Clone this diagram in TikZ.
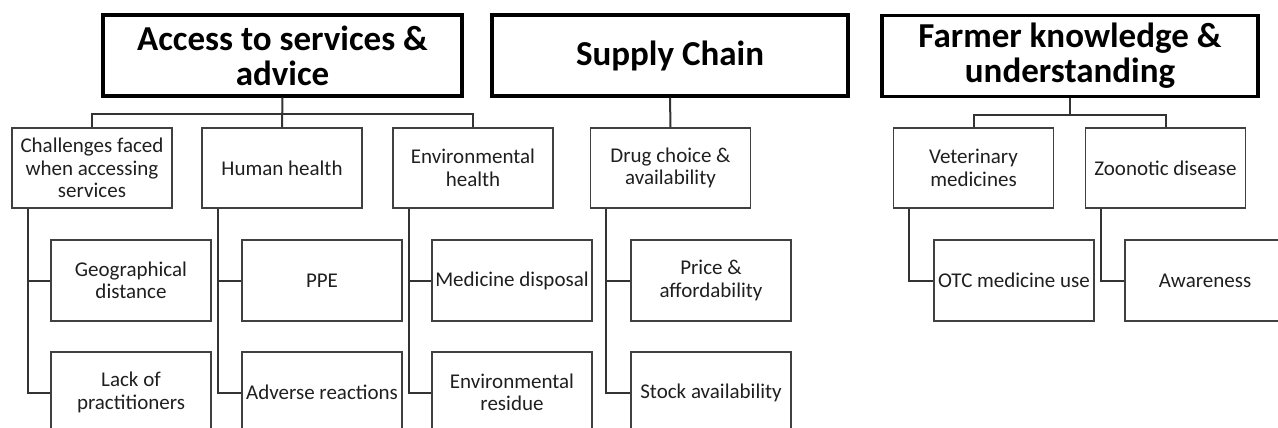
\documentclass[tikz,border=0pt]{standalone}
\usepackage{fontspec}
\setmainfont{Carlito}
\usetikzlibrary{calc}
\begin{document}
\begin{tikzpicture}[x=1pt,y=-1pt,
  headbox/.style={draw=black,line width=3.2pt,minimum width=#1,minimum height=81pt,
    inner sep=0pt,align=center,font=\fontsize{35}{35}\selectfont\bfseries},
  topicbox/.style={draw=black!75,line width=1.7pt,minimum width=160pt,minimum height=80pt,
    inner sep=0pt,align=center,text=black!88,font=\fontsize{21}{22.5}\selectfont},
  leafbox/.style={topicbox,minimum height=81pt},
  link/.style={draw=black!80,line width=2pt}]
\useasboundingbox (0,0) rectangle (1278,428);
\clip (0,0) rectangle (1278,428);

% theme headers
\node[headbox=359pt] (acc) at (282.5,55.5) {Access to services \&\\advice};
\node[headbox=356pt] (sup) at (670,55.5) {Supply Chain};
\node[headbox=376pt] (far) at (1070,56) {Farmer knowledge \&\\understanding};

% sub-themes
\node[topicbox] (chal) at (92,168) {Challenges faced\\when accessing\\services};
\node[topicbox] (hum) at (282,168) {Human health};
\node[topicbox] (env) at (473,168) {Environmental\\health};
\node[topicbox] (drug) at (670.5,168) {Drug choice \&\\availability};
\node[topicbox] (vet) at (973.5,168) {Veterinary\\medicines};
\node[topicbox] (zoo) at (1165.5,168) {Zoonotic disease};

% codes, upper row
\node[leafbox] (geo) at (131,280.5) {Geographical\\distance};
\node[leafbox] (ppe) at (322,280.5) {PPE};
\node[leafbox] (med) at (512,280.5) {Medicine disposal};
\node[leafbox] (price) at (711,280.5) {Price \&\\affordability};
\node[leafbox] (otc) at (1014,280.5) {OTC medicine use};
\node[leafbox] (aware) at (1205,280.5) {Awareness};

% codes, lower row
\node[leafbox] (lack) at (131,392.5) {Lack of\\practitioners};
\node[leafbox] (adv) at (322,392.5) {Adverse reactions};
\node[leafbox] (res) at (512,392.5) {Environmental\\residue};
\node[leafbox] (stock) at (711,392.5) {Stock availability};

% header to sub-theme connectors
\coordinate (accbar) at ([yshift=-16.5pt]acc.south);
\coordinate (farbar) at ([yshift=-16.5pt]far.south);
\draw[link] (acc.south) -- (hum.north);
\draw[link] (chal.north) |- (accbar) -| (env.north);
\draw[link] (sup.south) -- (drug.north);
\draw[link] (far.south) -- (farbar);
\draw[link] (vet.north) |- (farbar) -| (zoo.north);

% sub-theme to code connectors
\foreach \p/\a/\b in {chal/geo/lack, hum/ppe/adv, env/med/res, drug/price/stock}{
  \draw[link] ([xshift=16.5pt]\p.south west) |- (\a.west);
  \draw[link] ([xshift=16.5pt]\p.south west) |- (\b.west);
}
\draw[link] ([xshift=16.5pt]vet.south west) |- (otc.west);
\draw[link] ([xshift=16.5pt]zoo.south west) |- (aware.west);
\end{tikzpicture}
\end{document}
